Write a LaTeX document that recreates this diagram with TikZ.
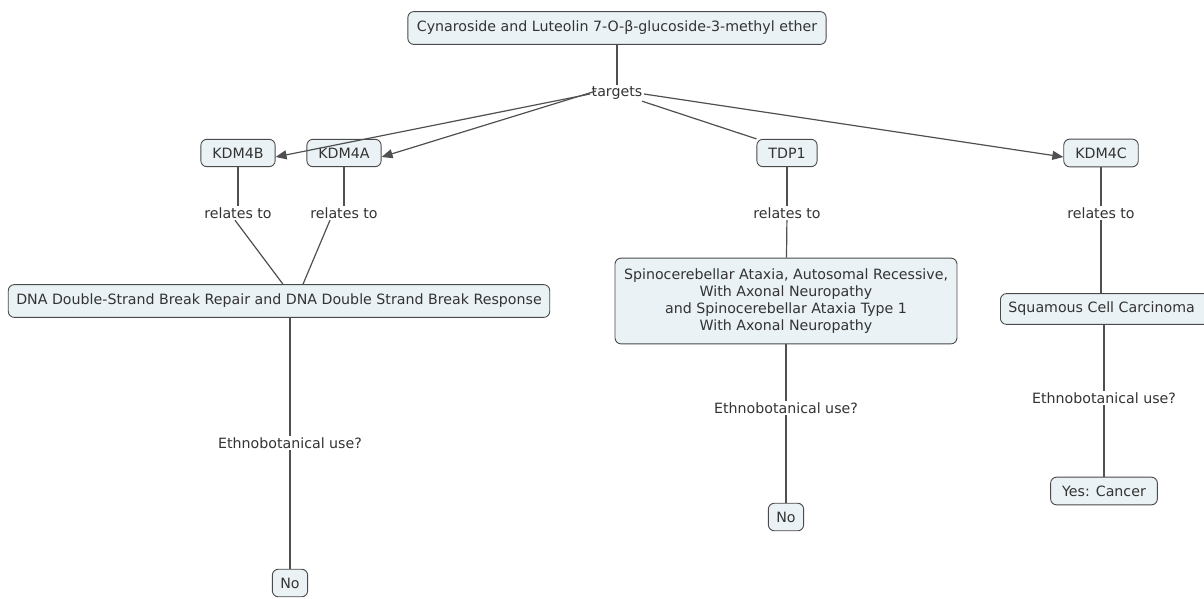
\documentclass[tikz,border=0pt]{standalone}
\usepackage{fontspec}
\setmainfont{DejaVu Sans}
\usetikzlibrary{arrows.meta,positioning}
\definecolor{boxfill}{HTML}{EAF2F5}
\definecolor{boxline}{HTML}{4A4A4A}
\definecolor{linkline}{HTML}{505050}
\definecolor{txt}{HTML}{333333}

\begin{document}
\begin{tikzpicture}[x=1pt,y=-1pt,
  every node/.style={font=\fontsize{14.2}{17}\selectfont,text=txt},
  concept/.style={draw=boxline,fill=boxfill,rounded corners=6pt,line width=.9pt,inner xsep=9pt,inner ysep=8.5pt,align=center},
  short/.style={inner xsep=11.5pt},
  linkword/.style={inner sep=1.5pt},
  link/.style={draw=linkline,line width=1.2pt},
  tip/.style={-{Triangle[length=11pt,width=9pt]}}]
\clip (0,0) rectangle (1204,598);
\fill[white] (0,0) rectangle (1204,598);
% concepts
\node[concept,inner ysep=9.5pt] (top) at (617,28) {Cynaroside and Luteolin 7-O-β-glucoside-3-methyl ether};
\node[concept,short] (kdm4b) at (238,153) {KDM4B};
\node[concept,short] (kdm4a) at (344,153) {KDM4A};
\node[concept,short] (tdp1) at (787,153) {TDP1};
\node[concept,short] (kdm4c) at (1101,153) {KDM4C};
\node[concept,inner xsep=8pt,inner ysep=9.5pt] (dna) at (279,301) {DNA Double-Strand Break Repair and DNA Double Strand Break Response};
\node[concept,inner ysep=10.5pt] (sca) at (786,301) {Spinocerebellar Ataxia, Autosomal Recessive,\\With Axonal Neuropathy\\and Spinocerebellar Ataxia Type 1\\With Axonal Neuropathy};
\node[concept,anchor=west,inner xsep=8pt] (scc) at (1000,309) {Squamous Cell Carcinoma\hspace{20pt}};
\node[concept,inner xsep=8pt] (no1) at (290,583) {No};
\node[concept,inner xsep=8pt] (no2) at (786,517) {No};
\node[concept,short] (yes) at (1104,491) {Yes: Cancer};
% linking words
\node[linkword] (targets) at (617,93) {targets};
\node[linkword] (rel1) at (238,213) {relates to};
\node[linkword] (rel2) at (344,213) {relates to};
\node[linkword] (rel3) at (787,213) {relates to};
\node[linkword] (rel4) at (1101,213) {relates to};
\node[linkword] (eth1) at (290,443) {Ethnobotanical use?};
\node[linkword] (eth2) at (786,408) {Ethnobotanical use?};
\node[linkword] (eth3) at (1104,398) {Ethnobotanical use?};
% connectors
\draw[link] (top) -- (targets);
\draw[link,tip] ([yshift=-1pt]targets.west) -- ([yshift=-4pt]kdm4b.east);
\draw[link,tip] ([xshift=6pt,yshift=2pt]targets.west) -- ([yshift=-4pt]kdm4a.east);
\draw[link] ([xshift=-2pt]targets.south east) -- (tdp1.north west);
\draw[link,tip] ([yshift=-1pt]targets.east) -- ([yshift=-4pt]kdm4c.west);
\draw[link] (kdm4b) -- (rel1);
\draw[link] (kdm4a) -- (rel2);
\draw[link] (tdp1) -- (rel3);
\draw[link] (kdm4c) -- (rel4);
\draw[link] ([xshift=-3pt]rel1.south) -- ([xshift=4pt]dna.north);
\draw[link] ([xshift=-14pt]rel2.south) -- ([xshift=24pt]dna.north);
\draw[link] (rel3) -- (sca);
\draw[link] (rel4) -- (scc.north -| rel4);
\draw[link] ([xshift=11pt]dna.south) -- (eth1);
\draw[link] (eth1) -- (no1);
\draw[link] (sca) -- (eth2);
\draw[link] (eth2) -- (no2);
\draw[link] (scc.south -| eth3) -- (eth3);
\draw[link] (eth3) -- (yes);
\end{tikzpicture}
\end{document}
